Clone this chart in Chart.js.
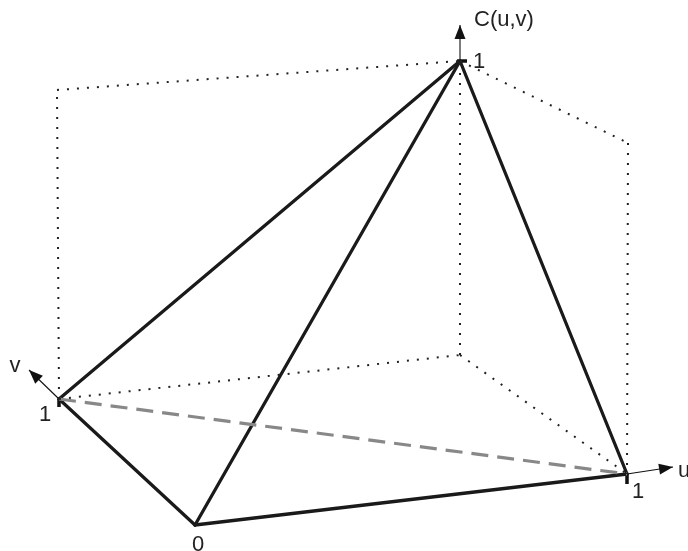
<!DOCTYPE html>
<html>
<head>
<meta charset="utf-8">
<script src="https://cdn.jsdelivr.net/npm/chart.js@4/dist/chart.umd.min.js"></script>
<style>
  body { margin: 0; background: #fff; }
  #wrap { width: 688px; height: 551px; }
</style>
</head>
<body>
<div id="wrap"><canvas id="copula"></canvas></div>
<script>
// projected vertices of the unit cube (picture frame units, y grows downward)
let vertexNames = ['O', 'U', 'V', 'T', 'B', 'UT', 'VT'];
let vertexX = [195, 627, 59, 460, 460, 628, 57];
let vertexY = [525, 474, 399, 61, 355, 143, 90];

// edges of the surface C(u,v) = min(u,v) and of the box
let solidEdges = [['O', 'U'], ['O', 'V'], ['O', 'T'], ['U', 'T'], ['V', 'T']];
let dashedEdges = [['V', 'U']];
let dottedEdges = [['V', 'B'], ['B', 'U'], ['B', 'T'], ['V', 'VT'], ['VT', 'T'], ['T', 'UT'], ['UT', 'U']];

// axis arrows: start vertex, tip
let axisNames = ['u', 'v', 'C(u,v)'];
let axisFrom = ['U', 'V', 'T'];
let axisTipX = [673, 29, 460];
let axisTipY = [467, 370, 25];

// tick labels
let tickLabels = ['0', '1', '1', '1', 'u', 'v', 'C(u,v)'];
let tickX = [198, 45, 638, 479, 684, 15, 504];
let tickY = [545, 415, 492, 62, 471, 366, 20];

// tick marks at the unit points
let tickMarkX1 = [627, 59, 457];
let tickMarkY1 = [474, 399, 61];
let tickMarkX2 = [627, 59, 467];
let tickMarkY2 = [484, 407, 61];

function pt(name) {
    let i = vertexNames.indexOf(name);
    return { x: vertexX[i], y: vertexY[i] };
}

let datasets = [];

dottedEdges.forEach((e) => {
    datasets.push({
        data: [pt(e[0]), pt(e[1])],
        borderColor: '#222',
        borderWidth: 2,
        borderDash: [2, 8],
        borderCapStyle: 'butt'
    });
});

dashedEdges.forEach((e) => {
    datasets.push({
        data: [pt(e[0]), pt(e[1])],
        borderColor: '#888',
        borderWidth: 3.2,
        borderDash: [17, 9]
    });
});

solidEdges.forEach((e) => {
    datasets.push({
        data: [pt(e[0]), pt(e[1])],
        borderColor: '#1a1a1a',
        borderWidth: 3.3,
        borderCapStyle: 'round'
    });
});

axisFrom.forEach((v, i) => {
    datasets.push({
        data: [pt(v), { x: axisTipX[i], y: axisTipY[i] }],
        borderColor: '#111',
        borderWidth: 1.1,
        arrow: true
    });
});

tickMarkX1.forEach((x, i) => {
    datasets.push({
        data: [{ x: x, y: tickMarkY1[i] }, { x: tickMarkX2[i], y: tickMarkY2[i] }],
        borderColor: '#111',
        borderWidth: 3.5
    });
});

datasets.forEach((d) => {
    d.showLine = true;
    d.pointRadius = 0;
    d.fill = false;
});

// arrow heads and text labels
let decorations = {
    id: 'decorations',
    afterDatasetsDraw(chart) {
        let ctx = chart.ctx;
        let xs = chart.scales.x;
        let ys = chart.scales.y;
        ctx.save();
        chart.data.datasets.forEach((d) => {
            if (!d.arrow) return;
            let a = d.data[0], b = d.data[1];
            let x0 = xs.getPixelForValue(a.x), y0 = ys.getPixelForValue(a.y);
            let x1 = xs.getPixelForValue(b.x), y1 = ys.getPixelForValue(b.y);
            let ang = Math.atan2(y1 - y0, x1 - x0);
            let len = 14, half = 5.5;
            ctx.fillStyle = '#111';
            ctx.beginPath();
            ctx.moveTo(x1, y1);
            ctx.lineTo(x1 - len * Math.cos(ang) + half * Math.sin(ang), y1 - len * Math.sin(ang) - half * Math.cos(ang));
            ctx.lineTo(x1 - len * Math.cos(ang) - half * Math.sin(ang), y1 - len * Math.sin(ang) + half * Math.cos(ang));
            ctx.closePath();
            ctx.fill();
        });
        ctx.fillStyle = '#222';
        ctx.font = '22px "Liberation Sans", Arial, sans-serif';
        ctx.textAlign = 'center';
        ctx.textBaseline = 'middle';
        tickLabels.forEach((t, i) => {
            ctx.fillText(t, xs.getPixelForValue(tickX[i]), ys.getPixelForValue(tickY[i]));
        });
        ctx.restore();
    }
};

new Chart(document.getElementById('copula'), {
    type: 'scatter',
    data: { datasets: datasets },
    options: {
        responsive: true,
        maintainAspectRatio: false,
        animation: false,
        layout: { padding: 0 },
        scales: {
            x: { type: 'linear', min: 0, max: 688, display: false },
            y: { type: 'linear', min: 0, max: 551, reverse: true, display: false }
        },
        plugins: {
            legend: { display: false },
            tooltip: { enabled: false }
        }
    },
    plugins: [decorations]
});
</script>
</body>
</html>
